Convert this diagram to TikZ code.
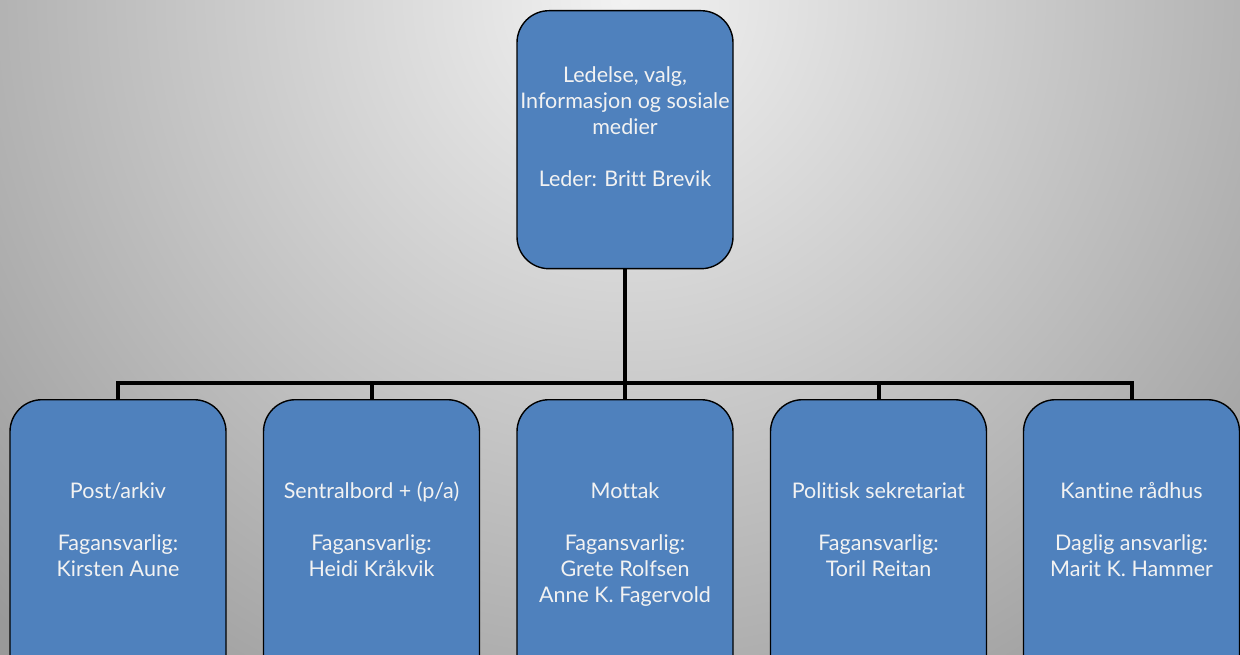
\documentclass[tikz,border=0pt]{standalone}
\usepackage{fontspec}
\setmainfont{Lato}[Ligatures={NoCommon}]
\definecolor{boxblue}{RGB}{79,129,189}
\definecolor{bgin}{RGB}{242,242,242}
\definecolor{bgout}{RGB}{153,153,153}
\definecolor{txt}{RGB}{242,242,242}
\tikzset{
  unitbox/.style={draw=black, line width=1.4pt, fill=boxblue, rounded corners=32pt,
    minimum width=216pt, inner sep=0pt},
  unittext/.style={text=txt, align=center, inner sep=0pt, anchor=north,
    font=\fontsize{21.5}{26}\selectfont},
  conn/.style={draw=black, line width=4pt}
}
\begin{document}
\begin{tikzpicture}[x=1pt,y=-1pt]
\useasboundingbox (0,0) rectangle (1240,655);
\clip (0,0) rectangle (1240,655);
\fill[bgout] (0,0) rectangle (1240,655);
\shade[inner color=bgin, outer color=bgout] (625,0) circle (880);
% top box
\node[unitbox, minimum height=258pt, anchor=north] (top) at (625,10) {};
\node[unittext] (ttop) at (625,66) {Ledelse, valg,\\Informasjon og sosiale\\medier\\[26pt]Leder: Britt Brevik};
% bottom boxes
\node[unitbox, minimum height=290pt, anchor=north] (b1) at (118,399) {};
\node[unitbox, minimum height=290pt, anchor=north] (b2) at (371.5,399) {};
\node[unitbox, minimum height=290pt, anchor=north] (b3) at (625,399) {};
\node[unitbox, minimum height=290pt, anchor=north] (b4) at (878.5,399) {};
\node[unitbox, minimum height=290pt, anchor=north] (b5) at (1131.5,399) {};
\node[unittext] (t1) at (118,482) {Post/arkiv\\[26pt]Fagansvarlig:\\Kirsten Aune};
\node[unittext] (t2) at (371.5,482) {Sentralbord + (p/a)\\[26pt]Fagansvarlig:\\Heidi Kråkvik};
\node[unittext] (t3) at (625,482) {Mottak\\[26pt]Fagansvarlig:\\Grete Rolfsen\\Anne K. Fagervold};
\node[unittext] (t4) at (878.5,482) {Politisk sekretariat\\[26pt]Fagansvarlig:\\Toril Reitan};
\node[unittext] (t5) at (1131.5,482) {Kantine rådhus\\[26pt]Daglig ansvarlig:\\Marit K. Hammer};
% connectors
\coordinate (bus) at (625,383);
\draw[conn] (top.south) -- (bus);
\draw[conn] (b1.north) |- (bus);
\draw[conn] (b2.north) |- (bus);
\draw[conn] (b3.north) -- (bus);
\draw[conn] (b4.north) |- (bus);
\draw[conn] (b5.north) |- (bus);
\end{tikzpicture}
\end{document}
